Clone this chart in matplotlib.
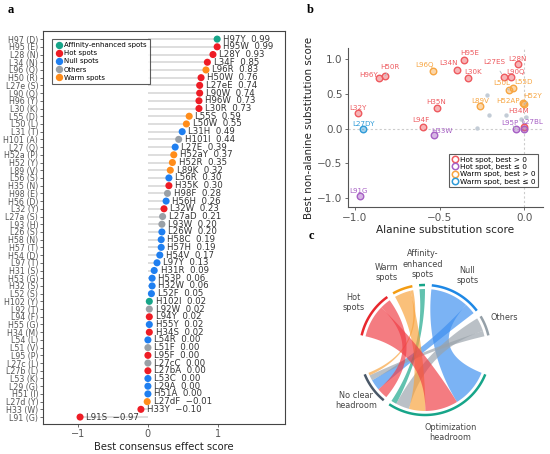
import numpy as np
import matplotlib
matplotlib.use("Agg")
import matplotlib.pyplot as plt
from matplotlib.patches import Polygon
from matplotlib.lines import Line2D

plt.rcParams['font.family'] = ['DejaVu Sans']

# ---------------- Panel a data ----------------
positions = ["H97 (D)", "H95 (E)", "L28 (N)", "L34 (N)", "L96 (Q)", "H50 (R)", "L27e (S)", "L90 (Q)", "H96 (Y)", "L30 (K)",
             "L55 (D)", "L50 (L)", "L31 (T)", "H101 (A)", "L27 (Q)", "H52a (P)", "H52 (Y)", "L89 (V)", "L56 (S)", "H35 (N)",
             "H98 (E)", "H56 (D)", "L32 (Y)", "L27a (S)", "L93 (H)", "L26 (S)", "H58 (N)", "H57 (T)", "H54 (D)", "L97 (T)",
             "H31 (S)", "H53 (G)", "H32 (S)", "L52 (S)", "H102 (Y)", "L92 (T)", "L94 (F)", "H55 (G)", "H34 (M)", "L54 (L)",
             "L51 (V)", "L95 (P)", "L27c (L)", "L27b (L)", "L53 (K)", "L29 (G)", "H51 (I)", "L27d (Y)", "H33 (W)", "L91 (G)"]
mutations = ["H97Y", "H95W", "L28Y", "L34F", "L96R", "H50W", "L27eE", "L90W", "H96W", "L30R",
             "L55S", "L50W", "L31H", "H101I", "L27E", "H52aY", "H52R", "L89K", "L56R", "H35K",
             "H98F", "H56H", "L32W", "L27aD", "L93W", "L26W", "H58C", "H57H", "H54V", "L97Y",
             "H31R", "H53P", "H32W", "L52F", "H102I", "L92W", "L94Y", "H55Y", "H34S", "L54R",
             "L51F", "L95F", "L27cC", "L27bA", "L53C", "L29A", "H51A", "L27dF", "H33Y", "L91S"]
scores = [0.99, 0.99, 0.93, 0.85, 0.83, 0.76, 0.74, 0.74, 0.73, 0.73,
          0.59, 0.55, 0.49, 0.44, 0.39, 0.37, 0.35, 0.32, 0.30, 0.30,
          0.28, 0.26, 0.23, 0.21, 0.20, 0.20, 0.19, 0.19, 0.17, 0.13,
          0.09, 0.06, 0.06, 0.05, 0.02, 0.02, 0.02, 0.02, 0.02, 0.00,
          0.00, 0.00, 0.00, 0.00, 0.00, 0.00, 0.00, -0.01, -0.10, -0.97]
spot_class = ["A", "H", "H", "H", "W", "H", "H", "H", "H", "H",
              "W", "W", "N", "O", "N", "W", "W", "W", "N", "H",
              "O", "N", "H", "O", "O", "N", "N", "N", "N", "N",
              "N", "N", "N", "N", "A", "O", "H", "N", "H", "N",
              "O", "H", "O", "H", "N", "N", "N", "W", "H", "H"]
class_names = {"A": "Affinity-enhanced spots", "H": "Hot spots", "N": "Null spots",
               "O": "Others", "W": "Warm spots"}
class_colors = {"A": "#17a589", "H": "#ee1c25", "N": "#1f7ff0", "O": "#9aa0a6", "W": "#ff8c1a"}

# ---------------- Panel b data ----------------
b_names = ["H96Y", "H50R", "L32Y", "L27DY", "L94F", "L96Q", "L34N", "H95E", "L30K", "H35N", "H33W", "L89V",
           "L27ES", "L90Q", "L28N", "L50L", "L55D", "H52AP", "H52Y", "H34M", "L95P", "L27BL", "L91G"]
b_alanine = [-0.86, -0.82, -0.98, -0.95, -0.60, -0.54, -0.40, -0.355, -0.33, -0.515, -0.53, -0.26,
             -0.12, -0.08, -0.04, -0.09, -0.065, -0.01, 0.0, 0.0, -0.05, 0.0, -0.97]
b_best = [0.73, 0.76, 0.23, -0.01, 0.02, 0.83, 0.85, 0.99, 0.73, 0.30, -0.10, 0.32,
          0.74, 0.74, 0.93, 0.55, 0.59, 0.37, 0.35, 0.02, 0.00, 0.00, -0.97]
b_group = ["hot+", "hot+", "hot+", "warm-", "hot+", "warm+", "hot+", "hot+", "hot+", "hot+", "hot-", "warm+",
           "hot+", "hot+", "hot+", "warm+", "warm+", "warm+", "warm+", "hot+", "hot-", "hot-", "hot-"]
b_other_alanine = [-0.22, -0.21, -0.28, -0.11, -0.02, 0.01]
b_other_best = [0.49, 0.20, 0.01, 0.19, 0.14, 0.16]

group_names = {"hot+": "Hot spot, best > 0", "hot-": "Hot spot, best \u2264 0",
               "warm+": "Warm spot, best > 0", "warm-": "Warm spot, best \u2264 0"}
group_colors = {"hot+": "#ee5a5f", "hot-": "#a65fc4", "warm+": "#f7a541", "warm-": "#2f9bd8"}

# label placement (layout) for panel b, in data coordinates
b_label_pos = {"H96Y": (-0.92, 0.77), "H50R": (-0.79, 0.88), "L32Y": (-0.98, 0.30), "L27DY": (-0.95, 0.06),
               "L94F": (-0.61, 0.13), "L96Q": (-0.59, 0.91), "L34N": (-0.45, 0.94), "H95E": (-0.325, 1.09),
               "L30K": (-0.30, 0.81), "H35N": (-0.52, 0.38), "H33W": (-0.485, -0.03), "L89V": (-0.26, 0.39),
               "L27ES": (-0.18, 0.96), "L90Q": (-0.055, 0.82), "L28N": (-0.04, 1.00), "L50L": (-0.135, 0.66),
               "L55D": (-0.005, 0.67), "H52AP": (-0.095, 0.39), "H52Y": (0.05, 0.47), "H34M": (-0.035, 0.25),
               "L95P": (-0.085, 0.08), "L27BL": (0.045, 0.09), "L91G": (-0.98, -0.90)}
b_leaders = ["L27ES", "H52Y", "H34M", "L50L", "H50R", "L95P", "L27BL"]

fig = plt.figure(figsize=(5.5, 4.54), dpi=100)
W, H = 550.0, 454.0

def fig_rect(x0, y0, x1, y1):
    return [x0 / W, 1 - y1 / H, (x1 - x0) / W, (y1 - y0) / H]

# ---------------- Panel a ----------------
ax = fig.add_axes(fig_rect(43, 31, 285, 424))
n = len(scores)
rows = np.arange(n)
for i in rows:
    ax.plot([0, scores[i]], [i, i], color="#dedede", lw=1.4, zorder=1, solid_capstyle="butt")
cols = [class_colors[c] for c in spot_class]
ax.scatter(scores, rows, s=26, c=cols, zorder=3, linewidths=0)
for i in rows:
    v = scores[i]
    vs = ("\u2212%.2f" % abs(v)) if v < 0 else ("%.2f" % v)
    ax.text(v + 0.09, i, "%s  %s" % (mutations[i], vs), va="center", ha="left",
            fontsize=6.2, color="#333333", zorder=4)
ax.set_yticks(rows)
ax.set_yticklabels(positions, fontsize=5.7, color="#555555")
ax.set_ylim(49.9, -1.05)
ax.set_xlim(-1.5, 1.96)
ax.set_xticks([-1, 0, 1])
ax.set_xticklabels(["\u22121", "0", "1"], fontsize=7, color="#555555")
ax.tick_params(axis="both", length=2, width=0.6, color="#555555", pad=1.5)
for sp in ax.spines.values():
    sp.set_color("#444444")
    sp.set_linewidth(0.8)
ax.set_xlabel("Best consensus effect score", fontsize=7.2, color="#222222", labelpad=2)
handles_a = [Line2D([], [], marker="o", ls="", ms=4.3, mfc=class_colors[k], mec=class_colors[k],
                    label=class_names[k]) for k in ["A", "H", "N", "O", "W"]]
leg = ax.legend(handles=handles_a, loc="upper left", bbox_to_anchor=(0.037, 0.98), borderaxespad=0,
                prop={"size": 5.0}, frameon=True, fancybox=False, handletextpad=0.25, labelspacing=0.3,
                borderpad=0.5, handlelength=1.0)
leg.get_frame().set_edgecolor("#333333")
leg.get_frame().set_linewidth(0.8)

# ---------------- Panel b ----------------
bx = fig.add_axes(fig_rect(348, 48, 543, 207))
bx.axhline(0, color="#cccccc", lw=0.8, ls=(0, (2, 2)), zorder=0)
bx.axvline(0, color="#cccccc", lw=0.8, ls=(0, (2, 2)), zorder=0)
bx.scatter(b_other_alanine, b_other_best, s=10, color="#c3ccd6", linewidths=0, zorder=1)
for name, xa, yb, g in zip(b_names, b_alanine, b_best, b_group):
    col = matplotlib.colors.to_rgba(group_colors[g])
    face = (col[0], col[1], col[2], 0.45)
    bx.scatter([xa], [yb], s=22, facecolor=[face], edgecolor=[col], linewidths=1.0, zorder=3)
    lx, ly = b_label_pos[name]
    if name in b_leaders:
        bx.annotate(name, xy=(xa, yb), xytext=(lx, ly), textcoords="data", ha="center", va="center",
                    fontsize=5.1, color=group_colors[g], zorder=4,
                    arrowprops=dict(arrowstyle="-", color="#b0b8c0", lw=0.6, shrinkA=3, shrinkB=3))
    else:
        bx.text(lx, ly, name, ha="center", va="center", fontsize=5.1, color=group_colors[g], zorder=4)
bx.set_xlim(-1.04, 0.11)
bx.set_ylim(-1.13, 1.16)
bx.set_xticks([-1.0, -0.5, 0.0])
bx.set_xticklabels(["\u22121.0", "\u22120.5", "0.0"], fontsize=7.5, color="#555555")
bx.set_yticks([-1.0, -0.5, 0.0, 0.5, 1.0])
bx.set_yticklabels(["\u22121.0", "\u22120.5", "0.0", "0.5", "1.0"], fontsize=7.5, color="#555555")
bx.tick_params(axis="both", length=2.5, width=0.6, color="#555555", pad=1.5)
for k in ["top", "right"]:
    bx.spines[k].set_visible(False)
for k in ["left", "bottom"]:
    bx.spines[k].set_color("#555555")
    bx.spines[k].set_linewidth(0.8)
bx.set_xlabel("Alanine substitution score", fontsize=7.6, color="#222222", labelpad=1.5)
bx.set_ylabel("Best non-alanine substitution score", fontsize=7.4, color="#222222", labelpad=2)
handles_b = [Line2D([], [], marker="o", ls="", ms=4.6, mfc="none", mec=group_colors[k], mew=1.1,
                    label=group_names[k]) for k in ["hot+", "hot-", "warm+", "warm-"]]
legb = bx.legend(handles=handles_b, loc="lower right", bbox_to_anchor=(0.975, 0.125), borderaxespad=0,
                 prop={"size": 5.3}, frameon=True, fancybox=False, handletextpad=0.2, labelspacing=0.15,
                 borderpad=0.35, handlelength=1.0)
legb.get_frame().set_edgecolor("#333333")
legb.get_frame().set_linewidth(0.8)

# ---------------- Panel c (chord diagram) ----------------
cax = fig.add_axes([0, 0, 1, 1])
cax.set_xlim(0, W)
cax.set_ylim(H, 0)
cax.axis("off")
cax.patch.set_alpha(0)

top_order = ["H", "W", "A", "N", "O"]
top_labels = {"H": "Hot\nspots", "W": "Warm\nspots", "A": "Affinity-\nenhanced\nspots",
              "N": "Null\nspots", "O": "Others"}
label_shift = {"H": 0, "W": 6, "A": -1, "N": 0, "O": 0}
arc_colors = {"A": "#17a589", "H": "#e8272d", "N": "#1e88e5", "O": "#95a0a8", "W": "#f39c12"}
rib_colors = {"A": "#17a589", "H": "#f03e46", "N": "#3d8ff0", "O": "#9aa3ab", "W": "#f9a23b"}
opt_color, nc_color = "#17a589", "#4a5868"

counts_opt = {k: sum(1 for c, s in zip(spot_class, scores) if c == k and s > 0) for k in top_order}
counts_nc = {k: sum(1 for c, s in zip(spot_class, scores) if c == k and s <= 0) for k in top_order}
tot = {k: counts_opt[k] + counts_nc[k] for k in top_order}
n_opt = sum(counts_opt.values())
n_nc = sum(counts_nc.values())
n_all = n_opt + n_nc

cx, cy = 425.0, 350.0
r_arc, r_rib, r_lab = 65.0, 61.0, 86.0
unit, gap = 2.6, 6.0

def P(theta, r):
    t = np.deg2rad(theta)
    return np.array([cx + r * np.cos(t), cy - r * np.sin(t)])

def arc_pts(a1, a2, r, num=40):
    th = np.linspace(a1, a2, num)
    return np.array([P(t, r) for t in th])

def bez(p0, p2, num=40):
    c = np.array([cx, cy])
    t = np.linspace(0, 1, num)[:, None]
    return (1 - t) ** 2 * p0 + 2 * t * (1 - t) * c + t ** 2 * p2

# top group (clockwise from left)
top_span = n_all * unit + (len(top_order) - 1) * gap
src = {}
a = 90 + top_span / 2
for k in top_order:
    src[k] = (a - tot[k] * unit, a)
    a = a - tot[k] * unit - gap
# bottom group (counterclockwise from left)
bot_span = n_all * unit + gap
b0 = 270 - bot_span / 2
nc_rng = (b0, b0 + n_nc * unit)
opt_rng = (nc_rng[1] + gap, nc_rng[1] + gap + n_opt * unit)

opt_order = ["A", "O", "W", "H", "N"]
nc_order = ["W", "O", "N", "H", "A"]
tgt_opt, tgt_nc = {}, {}
a = opt_rng[0]
for k in opt_order:
    tgt_opt[k] = (a, a + counts_opt[k] * unit)
    a += counts_opt[k] * unit
a = nc_rng[0]
for k in nc_order:
    tgt_nc[k] = (a, a + counts_nc[k] * unit)
    a += counts_nc[k] * unit

def ribbon(s1, s2, t1, t2, color):
    pts = np.vstack([arc_pts(s1, s2, r_rib), bez(P(s2, r_rib), P(t1, r_rib)),
                     arc_pts(t1, t2, r_rib), bez(P(t2, r_rib), P(s1, r_rib))])
    cax.add_patch(Polygon(pts, closed=True, facecolor=color, edgecolor="none", alpha=0.68))

for k in ["N", "O", "A", "W", "H"]:
    s_lo, s_hi = src[k]
    split = s_lo + counts_nc[k] * unit
    if counts_nc[k] > 0:
        ribbon(s_lo, split, tgt_nc[k][0], tgt_nc[k][1], rib_colors[k])
    if counts_opt[k] > 0:
        ribbon(split, s_hi, tgt_opt[k][0], tgt_opt[k][1], rib_colors[k])

def draw_arc(rng, color, label, shift=0.0):
    p = arc_pts(rng[0], rng[1], r_arc, 60)
    cax.plot(p[:, 0], p[:, 1], color=color, lw=1.8, solid_capstyle="butt")
    m = P((rng[0] + rng[1]) / 2 + shift, r_lab)
    cax.text(m[0], m[1], label, ha="center", va="center", fontsize=5.9, color="#444444", linespacing=1.15)

for k in top_order:
    draw_arc(src[k], arc_colors[k], top_labels[k], label_shift[k])
draw_arc(nc_rng, nc_color, "No clear\nheadroom")
draw_arc(opt_rng, opt_color, "Optimization\nheadroom")

# panel letters
for letter, (px, py) in {"a": (11, 10), "b": (310, 10), "c": (311, 236)}.items():
    fig.text(px / W, 1 - py / H, letter, fontsize=9, fontweight="bold", family="Liberation Serif",
             ha="center", va="center")

fig.savefig("out.png", dpi=100)
